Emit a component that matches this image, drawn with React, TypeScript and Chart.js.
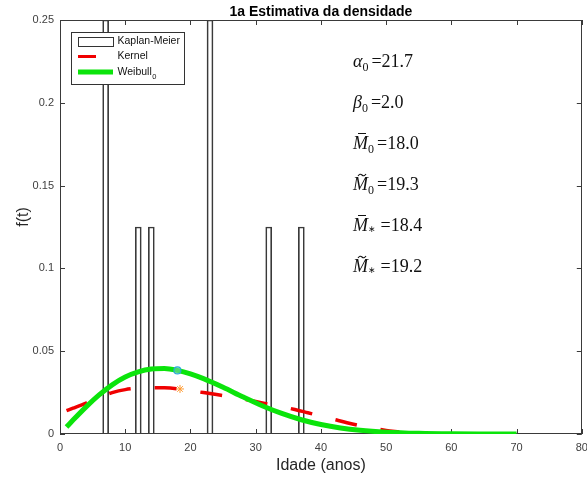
import React, { useEffect, useRef } from "react";
import { Chart, registerables } from "chart.js";

Chart.register(...registerables);

// ---- data ----
const kmTimes = [7, 12, 14, 23, 32, 37];
const kmDensity = [0.25, 0.125, 0.125, 0.25, 0.125, 0.125];

const kernelT = [1, 2, 4, 6, 8, 10, 12, 14, 16, 18, 20, 22, 24, 26, 28, 30, 32, 34, 36, 38, 40, 42, 44, 46, 48, 50, 52];
const kernelF = [0.0141, 0.0156, 0.0187, 0.0222, 0.025, 0.0268, 0.0277, 0.028, 0.0279, 0.0273, 0.0262, 0.025, 0.0238, 0.0226, 0.0212, 0.0196, 0.018, 0.0165, 0.0148, 0.0128, 0.0108, 0.0088, 0.0068, 0.005, 0.0035, 0.0022, 0.0012];

const weibullT = [1, 2, 4, 6, 8, 10, 12, 14, 16, 18, 20, 22, 25, 28, 31, 34, 37, 40, 43, 46, 50, 55, 60, 65, 70];
const weibullF = [0.0042, 0.0084, 0.0164, 0.0236, 0.0297, 0.0344, 0.0375, 0.0392, 0.0395, 0.0384, 0.0363, 0.0334, 0.0282, 0.0225, 0.0171, 0.0124, 0.0086, 0.0057, 0.0036, 0.0022, 0.0011, 0.0004, 0.0001, 0.00003, 0.00001];

const weibullMeanPoint = { x: 18.0, y: 0.0384 };
const kernelMeanPoint = { x: 18.4, y: 0.0272 };

const xTickValues = [0, 10, 20, 30, 40, 50, 60, 70, 80];
const yTickValues = [0, 0.05, 0.1, 0.15, 0.2, 0.25];

const titleText = "1a Estimativa da densidade";
const xTitle = "Idade (anos)";
const yTitle = "f(t)";

const legendLabels = ["Kaplan-Meier", "Kernel", "Weibull"];
const legendSubs = ["", "", "0"];

const statSymbols = ["α", "β", "M", "M", "M", "M"];
const statAccents = ["", "", "bar", "tilde", "bar", "tilde"];
const statSubs = ["0", "0", "0", "0", "∗", "∗"];
const statValues = ["21.7", "2.0", "18.0", "19.3", "18.4", "19.2"];

const SANS = "'Liberation Sans', Arial, Helvetica, sans-serif";
const SERIF = "'Liberation Serif', 'Times New Roman', serif";
const AXIS_COLOR = "#3a3a3a";
const RED = "#f00000";
const GREEN = "#0be40b";

const decorPlugin = {
  id: "decor",
  beforeDatasetsDraw(chart: any) {
    const { ctx, chartArea } = chart;
    const { left, right, top, bottom } = chartArea;
    const xs = chart.scales.x;
    const ys = chart.scales.y;
    ctx.save();
    ctx.strokeStyle = AXIS_COLOR;
    ctx.lineWidth = 1;
    ctx.strokeRect(Math.round(left) + 0.5, Math.round(top) + 0.5, Math.round(right - left) - 1, Math.round(bottom - top) - 1);
    const tl = 5;
    ctx.beginPath();
    xTickValues.forEach((v) => {
      const px = Math.round(xs.getPixelForValue(v)) + 0.5;
      ctx.moveTo(px, bottom);
      ctx.lineTo(px, bottom - tl);
      ctx.moveTo(px, top);
      ctx.lineTo(px, top + tl);
    });
    yTickValues.forEach((v) => {
      const py = Math.round(ys.getPixelForValue(v)) + 0.5;
      ctx.moveTo(left, py);
      ctx.lineTo(left + tl, py);
      ctx.moveTo(right, py);
      ctx.lineTo(right - tl, py);
    });
    ctx.stroke();
    ctx.restore();
  },
  afterDraw(chart: any) {
    const { ctx, chartArea } = chart;
    const { left, right } = chartArea;
    ctx.save();
    // title
    ctx.fillStyle = "#000";
    ctx.font = `bold 14px ${SANS}`;
    ctx.textAlign = "center";
    ctx.textBaseline = "alphabetic";
    ctx.fillText(titleText, (left + right) / 2, 16);
    // axis titles
    ctx.fillStyle = "#262626";
    ctx.font = `16px ${SANS}`;
    ctx.textBaseline = "middle";
    ctx.fillText(xTitle, (left + right) / 2, 466);
    ctx.save();
    ctx.translate(24, 217);
    ctx.rotate(-Math.PI / 2);
    ctx.fillText(yTitle, 0, 0);
    ctx.restore();

    // legend
    const lx = 71.5, ly = 32.5, lw = 113, lh = 52;
    ctx.fillStyle = "#fff";
    ctx.fillRect(lx, ly, lw, lh);
    ctx.strokeStyle = "#333";
    ctx.lineWidth = 1;
    ctx.strokeRect(lx, ly, lw, lh);
    const rows = [41.5, 56.5, 72];
    ctx.strokeStyle = "#333";
    ctx.strokeRect(78.5, 37.5, 35, 9);
    ctx.strokeStyle = RED;
    ctx.lineWidth = 3;
    ctx.beginPath();
    ctx.moveTo(78, rows[1]);
    ctx.lineTo(96, rows[1]);
    ctx.stroke();
    ctx.strokeStyle = GREEN;
    ctx.lineWidth = 5;
    ctx.beginPath();
    ctx.moveTo(78, rows[2]);
    ctx.lineTo(113, rows[2]);
    ctx.stroke();
    ctx.fillStyle = "#111";
    ctx.textAlign = "left";
    ctx.textBaseline = "middle";
    legendLabels.forEach((lab, i) => {
      ctx.font = `10.5px ${SANS}`;
      ctx.fillText(lab, 117.5, rows[i]);
      if (legendSubs[i]) {
        const w = ctx.measureText(lab).width;
        ctx.font = `7.5px ${SANS}`;
        ctx.fillText(legendSubs[i], 117.5 + w + 0.5, rows[i] + 5);
      }
    });

    // statistics text
    const sx = 353;
    const baselines = [67, 108, 149, 190, 231, 272];
    ctx.fillStyle = "#111";
    ctx.strokeStyle = "#111";
    ctx.textBaseline = "alphabetic";
    statSymbols.forEach((sym, i) => {
      const by = baselines[i];
      ctx.font = `italic 18px ${SERIF}`;
      ctx.fillText(sym, sx, by);
      const sw = ctx.measureText(sym).width;
      if (statAccents[i] === "bar") {
        ctx.lineWidth = 1;
        ctx.beginPath();
        ctx.moveTo(sx + 5, by - 15.5);
        ctx.lineTo(sx + 13, by - 15.5);
        ctx.stroke();
      } else if (statAccents[i] === "tilde") {
        ctx.lineWidth = 1.1;
        ctx.beginPath();
        const tx = sx + 5, ty = by - 15;
        ctx.moveTo(tx, ty + 1);
        ctx.quadraticCurveTo(tx + 2, ty - 2, tx + 4, ty);
        ctx.quadraticCurveTo(tx + 6, ty + 2, tx + 8, ty - 1);
        ctx.stroke();
      }
      let cx = sx + sw;
      if (statSubs[i] === "0") {
        ctx.font = `12px ${SERIF}`;
        ctx.fillText("0", cx, by + 3.5);
        cx += ctx.measureText("0").width;
      } else {
        ctx.font = `9px ${SERIF}`;
        ctx.fillText(statSubs[i], cx + 0.5, by + 1);
        cx += ctx.measureText(statSubs[i]).width + 1.5;
      }
      ctx.font = `18px ${SERIF}`;
      ctx.fillText("=" + statValues[i], cx + 3, by);
    });
    ctx.restore();
  },
};

export default function App() {
  const ref = useRef<HTMLCanvasElement | null>(null);
  useEffect(() => {
    if (!ref.current) return;
    const chart = new Chart(ref.current, {
      type: "bar",
      data: {
        datasets: [
          {
            type: "line",
            label: "meanKernel",
            data: [kernelMeanPoint],
            showLine: false,
            pointStyle: "star",
            pointRadius: 4,
            borderColor: "#ff9a30",
            backgroundColor: "#ff9a30",
            borderWidth: 1,
            order: 1,
          } as any,
          {
            type: "line",
            label: "meanWeibull",
            data: [weibullMeanPoint],
            showLine: false,
            pointStyle: "circle",
            pointRadius: 3.5,
            borderColor: "#2aa8d8",
            backgroundColor: "rgba(120,210,180,0.6)",
            borderWidth: 1.2,
            order: 2,
          } as any,
          {
            type: "line",
            label: "Weibull0",
            data: weibullT.map((t, i) => ({ x: t, y: weibullF[i] })),
            borderColor: GREEN,
            borderWidth: 5,
            pointRadius: 0,
            cubicInterpolationMode: "monotone",
            fill: false,
            order: 3,
          } as any,
          {
            type: "line",
            label: "Kernel",
            data: kernelT.map((t, i) => ({ x: t, y: kernelF[i] })),
            borderColor: RED,
            borderWidth: 3.5,
            borderDash: [22, 24],
            borderCapStyle: "butt",
            pointRadius: 0,
            cubicInterpolationMode: "monotone",
            fill: false,
            order: 4,
          } as any,
          {
            type: "bar",
            label: "Kaplan-Meier",
            data: kmTimes.map((t, i) => ({ x: t, y: kmDensity[i] })),
            backgroundColor: "rgba(255,255,255,0)",
            borderColor: "#3a3a3a",
            borderWidth: 1,
            barThickness: 6,
            order: 5,
          } as any,
        ],
      },
      options: {
        animation: false,
        responsive: false,
        maintainAspectRatio: false,
        layout: { padding: { top: 20, right: 5, left: 0, bottom: 0 } },
        plugins: {
          legend: { display: false },
          tooltip: { enabled: false },
          title: { display: false },
        },
        scales: {
          x: {
            type: "linear",
            min: 0,
            max: 80,
            offset: false,
            grid: { display: false, drawTicks: false },
            border: { display: false },
            ticks: {
              stepSize: 10,
              padding: 7,
              autoSkip: false,
              maxRotation: 0,
              color: "#404040",
              font: { family: SANS, size: 11 },
            },
            afterFit: (s: any) => {
              s.height = 45;
              s.paddingLeft = 0;
              s.paddingRight = 0;
            },
          },
          y: {
            type: "linear",
            min: 0,
            max: 0.25,
            grid: { display: false, drawTicks: false },
            border: { display: false },
            ticks: {
              stepSize: 0.05,
              padding: 6,
              color: "#404040",
              font: { family: SANS, size: 11 },
              callback: (v: any) => String(Number(Number(v).toFixed(2))),
            },
            afterFit: (s: any) => {
              s.width = 60;
              s.paddingTop = 0;
              s.paddingBottom = 0;
            },
          },
        },
      } as any,
      plugins: [decorPlugin],
    });
    return () => chart.destroy();
  }, []);
  return (
    <div style={{ position: "absolute", left: 0, top: 0, width: 587, height: 479, background: "#fff" }}>
      <canvas ref={ref} width={587} height={479} style={{ display: "block", width: 587, height: 479 }} />
    </div>
  );
}
